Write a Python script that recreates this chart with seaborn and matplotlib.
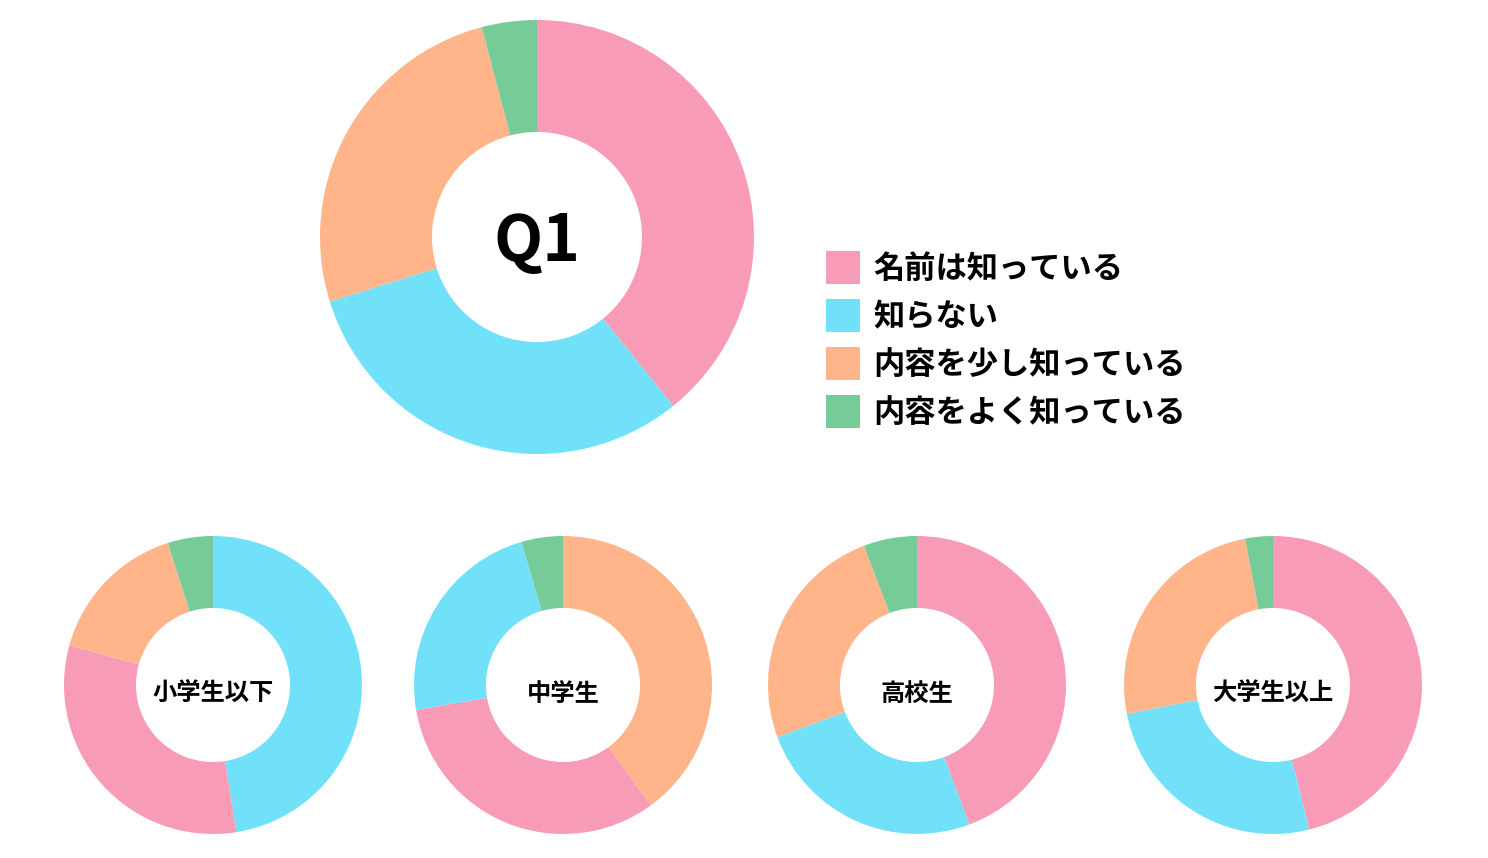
import matplotlib
matplotlib.use("Agg")
import matplotlib.pyplot as plt
import seaborn as sns

# answer categories (legend order) and colours
answers = ["名前は知っている", "知らない", "内容を少し知っている", "内容をよく知っている"]
colors = ["#F79BB7", "#71E1FA", "#FFB48A", "#75CC98"]

# overall result (percent)
q1_values = [39.2, 31.0, 25.7, 4.1]

# results by school level (percent, legend order)
groups = ["小学生以下", "中学生", "高校生", "大学生以上"]
elementary = [31.8, 47.5, 15.8, 4.9]
junior_high = [32.4, 23.2, 40.0, 4.5]
high_school = [44.3, 25.0, 24.9, 5.8]
university = [46.1, 25.8, 25.1, 3.0]
group_values = [elementary, junior_high, high_school, university]

sns.set_theme(style="white")
plt.rcParams['font.family'] = ['Noto Sans CJK JP', 'DejaVu Sans']
plt.rcParams['text.color'] = 'black'

W, H = 1488, 858
fig = plt.figure(figsize=(W / 100, H / 100), dpi=100)
palette = sns.color_palette(colors)


def donut(cx, cy, r, values, inner, label, fontsize, dy):
    ax = fig.add_axes([(cx - r) / W, (H - cy - r) / H, 2 * r / W, 2 * r / H])
    # slices drawn largest first, clockwise from 12 o'clock
    order = sorted(range(len(values)), key=lambda i: -values[i])
    wedges, _ = ax.pie([values[i] for i in order],
                       colors=[palette[i] for i in order],
                       startangle=90, counterclock=False, radius=1,
                       wedgeprops=dict(width=1 - inner, linewidth=0))
    ax.set_xlim(-1, 1)
    ax.set_ylim(-1, 1)
    ax.set_aspect("equal")
    ax.axis("off")
    ax.text(0, dy, label, ha="center", va="center", fontsize=fontsize,
            fontweight="bold", color="black")
    return ax, dict(zip(order, wedges))


ax_main, main_wedges = donut(537, 237, 217, q1_values, 0.484, "Q1", 46, -0.025)

for k, (vals, name) in enumerate(zip(group_values, groups)):
    cx = [213, 563, 917, 1273][k]
    donut(cx, 685, 149, vals, 0.517, name, 17.5, -0.06)

handles = [main_wedges[i] for i in range(len(answers))]
leg = fig.legend(handles, answers, loc="upper left",
                 bbox_to_anchor=(826 / W, 1 - 251 / H),
                 frameon=False, prop=dict(size=22.5, weight="bold"),
                 handlelength=1.09, handleheight=1.25, handletextpad=0.42,
                 labelspacing=0.45, borderpad=0, borderaxespad=0)
for t in leg.get_texts():
    t.set_color("black")

fig.savefig("out.png", dpi=100, facecolor="white")
